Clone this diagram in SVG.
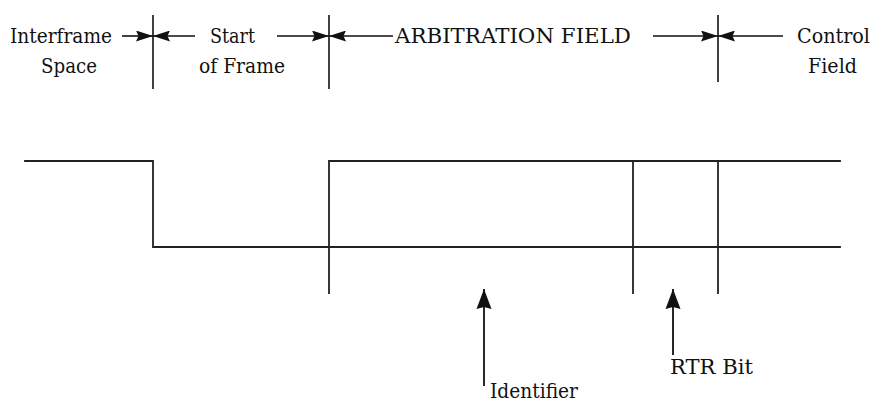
<svg xmlns="http://www.w3.org/2000/svg" width="873" height="404" viewBox="0 0 873 404">
  <style>
    .rule { stroke: #111; stroke-width: 1.6; fill: none; }
    .wave { stroke: #222; stroke-width: 1.8; fill: none; stroke-linecap: square; }
    .dim { stroke: #111; stroke-width: 1.6; fill: none; marker-end: url(#head); }
    .ptr { stroke: #111; stroke-width: 1.8; fill: none; marker-end: url(#bighead); }
  </style>
  <defs>
    <marker id="head" markerUnits="userSpaceOnUse" markerWidth="17" markerHeight="11" refX="17" refY="5.5" orient="auto">
      <path d="M0,0 L17,5.5 L0,11 L2.5,5.5 z" fill="#111"/>
    </marker>
    <marker id="bighead" markerUnits="userSpaceOnUse" markerWidth="20" markerHeight="16" refX="20" refY="8" orient="auto">
      <path d="M0,0.5 L20,8 L0,15.5 L2,8 z" fill="#111"/>
    </marker>
  </defs>

  <rect width="873" height="404" fill="#fff"/>

  <!-- field boundaries -->
  <g id="boundaries">
    <line class="rule" x1="153" y1="15" x2="153" y2="89"/>
    <line class="rule" x1="329" y1="15" x2="329" y2="89"/>
    <line class="rule" x1="718" y1="15" x2="718" y2="82"/>
  </g>

  <g font-family="DejaVu Serif, Liberation Serif, serif" font-size="20" fill="#111" lengthAdjust="spacingAndGlyphs">
    <!-- field labels -->
    <g id="interframe">
      <text x="10" y="43" textLength="102" lengthAdjust="spacingAndGlyphs">Interframe</text>
      <text x="41" y="73" textLength="56" lengthAdjust="spacingAndGlyphs">Space</text>
    </g>
    <g id="sof">
      <text x="210" y="43" textLength="45" lengthAdjust="spacingAndGlyphs">Start</text>
      <text x="199" y="73" textLength="86" lengthAdjust="spacingAndGlyphs">of Frame</text>
    </g>
    <g id="arbitration">
      <text x="395" y="43" textLength="236" lengthAdjust="spacingAndGlyphs">ARBITRATION FIELD</text>
    </g>
    <g id="control">
      <text x="797" y="43" textLength="73" lengthAdjust="spacingAndGlyphs">Control</text>
      <text x="808" y="73" textLength="49" lengthAdjust="spacingAndGlyphs">Field</text>
    </g>

    <!-- pointer labels -->
    <g id="identifier">
      <text x="490" y="398" textLength="88" lengthAdjust="spacingAndGlyphs">Identifier</text>
    </g>
    <g id="rtr">
      <text x="670" y="374" textLength="83" lengthAdjust="spacingAndGlyphs">RTR Bit</text>
    </g>
  </g>

  <!-- bit waveform -->
  <g id="waveform">
    <polyline class="wave" points="25,161 153,161 153,247 840,247"/>
    <polyline class="wave" points="329,293 329,161 840,161"/>
    <line class="wave" x1="633" y1="161" x2="633" y2="293"/>
    <line class="wave" x1="718" y1="161" x2="718" y2="293"/>
  </g>

  <!-- dimension arrows and pointers -->
  <g id="connectors">
    <line class="dim" x1="122" y1="36" x2="153" y2="36"/>
    <line class="dim" x1="195" y1="36" x2="153" y2="36"/>
    <line class="dim" x1="277" y1="36" x2="329" y2="36"/>
    <line class="dim" x1="393" y1="36" x2="329" y2="36"/>
    <line class="dim" x1="653" y1="36" x2="718" y2="36"/>
    <line class="dim" x1="783" y1="36" x2="718" y2="36"/>
    <line class="ptr" x1="484" y1="386" x2="484" y2="289"/>
    <line class="ptr" x1="673" y1="355" x2="673" y2="289"/>
  </g>
</svg>
